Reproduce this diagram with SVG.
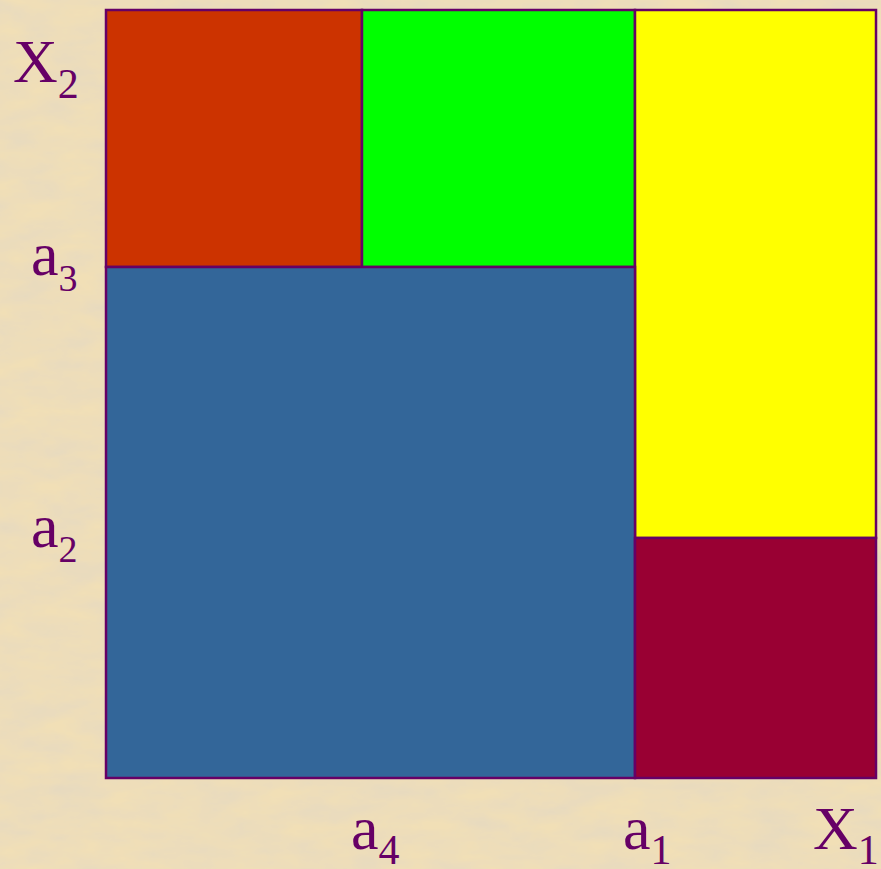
<svg xmlns="http://www.w3.org/2000/svg" width="881" height="869" viewBox="0 0 881 869">
<defs>
<filter id="parch" x="0" y="0" width="100%" height="100%">
<feTurbulence type="fractalNoise" baseFrequency="0.02 0.05" numOctaves="4" seed="7" result="n"/>
<feColorMatrix in="n" type="matrix" values="0 0 0 0 0.80  0 0 0 0 0.70  0 0 0 0 0.52  0 0 0 -1.6 1.2" result="c"/>
<feComposite in="c" in2="SourceGraphic" operator="over"/>
</filter>
<style>
.cell{stroke:#660066;stroke-width:2.5}
.lbl{font-family:"Liberation Serif","Times New Roman",serif;fill:#660066;font-size:62px}
.sub{font-size:42px}
.sm{font-size:38px}
</style>
</defs>
<rect x="0" y="0" width="881" height="869" fill="#F1DFB6" filter="url(#parch)"/>
<g id="cell-red"><rect class="cell" x="106" y="10" width="256" height="257" fill="#CC3300"/></g>
<g id="cell-green"><rect class="cell" x="362" y="10" width="273" height="257" fill="#00FF00"/></g>
<g id="cell-yellow"><rect class="cell" x="635" y="10" width="241" height="528" fill="#FFFF00"/></g>
<g id="cell-blue"><rect class="cell" x="106" y="267" width="529" height="511" fill="#336699"/></g>
<g id="cell-maroon"><rect class="cell" x="635" y="538" width="241" height="240" fill="#990033"/></g>
<g id="labels">
<text class="lbl" x="13" y="82">X<tspan class="sub" dy="16">2</tspan></text>
<text class="lbl" x="31" y="275">a<tspan class="sm" dy="16">3</tspan></text>
<text class="lbl" x="31" y="547">a<tspan class="sm" dy="15">2</tspan></text>
<text class="lbl" x="351" y="849">a<tspan class="sub" dy="15">4</tspan></text>
<text class="lbl" x="623" y="849">a<tspan class="sub" dy="15">1</tspan></text>
<text class="lbl" x="813" y="849">X<tspan class="sub" dy="15">1</tspan></text>
</g>
</svg>
